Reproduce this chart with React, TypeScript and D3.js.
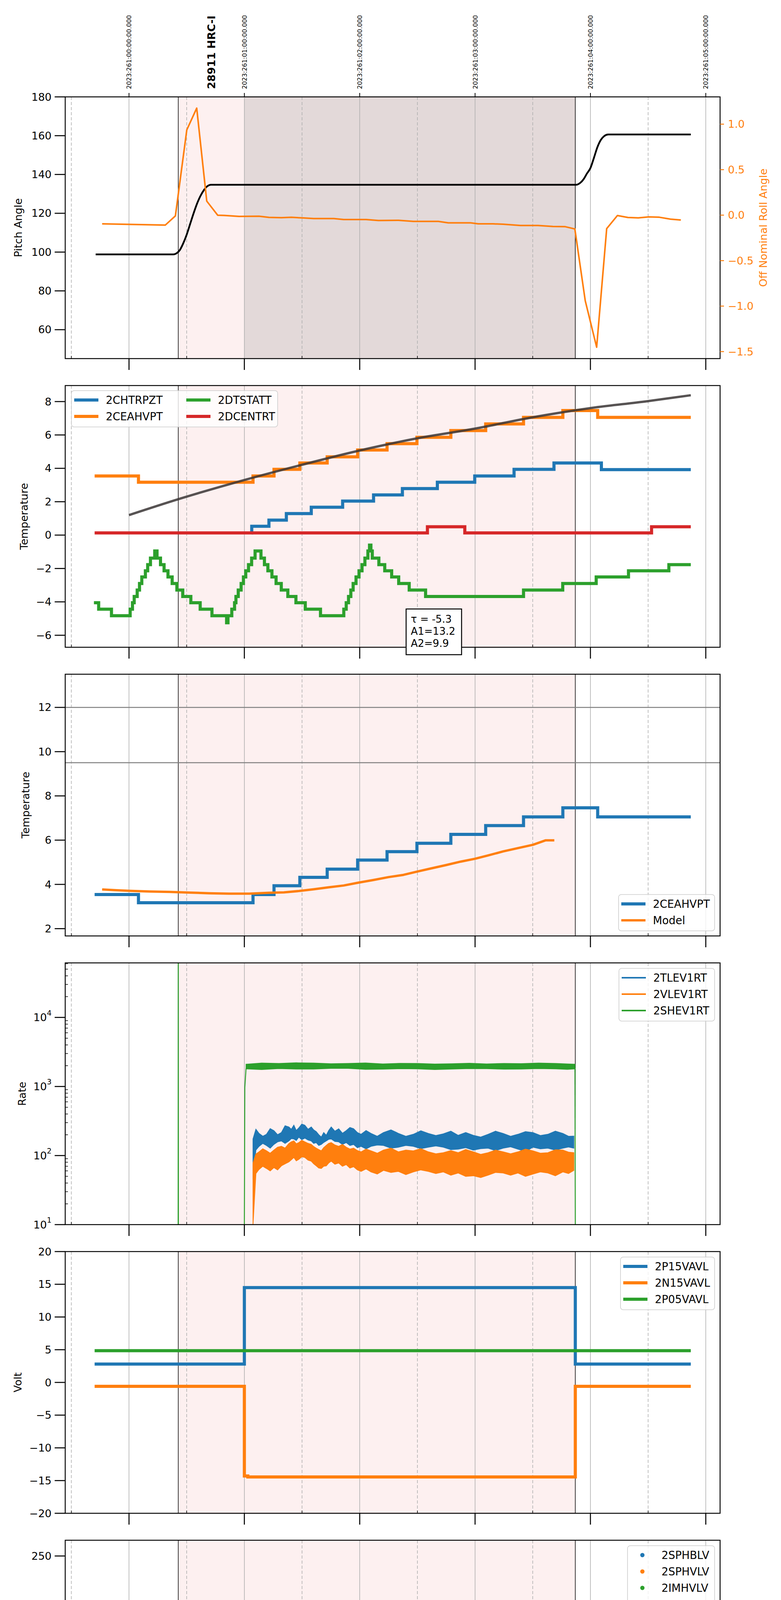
import React, { useLayoutEffect } from "react";
import * as d3 from "d3";

type Pt = [number, number];

// ---------------- time axis ----------------
const timeDomain: Pt = [19.447, 25.124];
const hourTicks = [20, 21, 22, 23, 24, 25];
const hourTickLabels = ["20h", "21h", "22h", "23h", "00h", "01h"];
const halfHourTicks = [19.5, 20.5, 21.5, 22.5, 23.5, 24.5];
const halfHourLabels = ["30", "30", "30", "30", "30", "30"];
const topTickLabels = [
  "2023:261:00:00:00.000",
  "2023:261:01:00:00.000",
  "2023:261:02:00:00.000",
  "2023:261:03:00:00.000",
  "2023:261:04:00:00.000",
  "2023:261:05:00:00.000",
];
const xAxisLabel = "2023-09-18 (261)";
const obsLabel = "28911 HRC-I";
const obsLabelTime = 20.713;
const obsWindow: Pt = [20.427, 23.869];
const dwellWindow: Pt = [21.0, 23.869];

// ---------------- panel 1: pitch / roll ----------------
const pitchAngle: Pt[] = [
  [19.711, 98.8], [20.384, 98.8], [20.41, 99.3], [20.44, 101], [20.47, 104.5], [20.5, 109],
  [20.53, 114.5], [20.56, 120], [20.59, 125], [20.62, 129], [20.65, 132], [20.68, 134],
  [20.71, 134.7], [23.877, 134.7], [23.91, 135.6], [23.94, 137.5], [23.97, 140.5], [24.0, 143.3],
  [24.03, 148.5], [24.06, 154], [24.09, 157.8], [24.12, 159.8], [24.155, 160.6], [24.87, 160.6],
];
const rollAngle: Pt[] = [
  [19.767, -0.096], [20.315, -0.109], [20.402, -0.009], [20.501, 0.937], [20.587, 1.176],
  [20.674, 0.154], [20.769, -0.001], [20.825, -0.003], [20.954, -0.014], [21.127, -0.012],
  [21.213, -0.025], [21.321, -0.028], [21.408, -0.024], [21.516, -0.031], [21.602, -0.038],
  [21.775, -0.038], [21.861, -0.048], [22.055, -0.048], [22.163, -0.059], [22.336, -0.057],
  [22.465, -0.069], [22.681, -0.069], [22.768, -0.085], [22.962, -0.085], [23.027, -0.096],
  [23.156, -0.096], [23.243, -0.1], [23.394, -0.114], [23.545, -0.114], [23.674, -0.125],
  [23.782, -0.127], [23.865, -0.152], [23.955, -0.94], [24.054, -1.452], [24.141, -0.148],
  [24.234, -0.004], [24.325, -0.026], [24.415, -0.03], [24.506, -0.019], [24.597, -0.023],
  [24.694, -0.044], [24.784, -0.054],
];

// ---------------- panel 2: temperatures ----------------
const panel2Names = ["2CHTRPZT", "2CEAHVPT", "2DTSTATT", "2DCENTRT"];
const chtrpzt: Pt[] = [
  [21.062, 0.13], [21.064, 0.53], [21.213, 0.9], [21.364, 1.29], [21.58, 1.67], [21.852, 2.04],
  [22.12, 2.41], [22.37, 2.79], [22.673, 3.17], [22.997, 3.54], [23.338, 3.94], [23.684, 4.32],
  [24.095, 3.92], [24.87, 3.92],
];
const ceahvpt: Pt[] = [
  [19.702, 3.54], [20.082, 3.17], [21.075, 3.54], [21.257, 3.94], [21.481, 4.32], [21.718, 4.69],
  [21.982, 5.1], [22.237, 5.48], [22.496, 5.86], [22.79, 6.26], [23.092, 6.66], [23.42, 7.05],
  [23.761, 7.46], [24.063, 7.05], [24.87, 7.05],
];
const dtstatt: Pt[] = [
  [19.696, -4.05], [19.737, -4.44], [19.848, -4.83], [20.01, -4.44], [20.03, -4.05], [20.045, -3.68],
  [20.071, -3.29], [20.091, -2.9], [20.111, -2.51], [20.142, -2.14], [20.162, -1.77], [20.186, -1.38],
  [20.223, -0.95], [20.243, -1.38], [20.273, -1.77], [20.304, -2.14], [20.338, -2.51], [20.374, -2.9],
  [20.415, -3.29], [20.466, -3.68], [20.536, -4.05], [20.617, -4.44], [20.719, -4.83], [20.846, -5.25],
  [20.858, -4.83], [20.891, -4.44], [20.915, -4.05], [20.927, -3.68], [20.947, -3.29], [20.972, -2.9],
  [20.992, -2.51], [21.012, -2.14], [21.036, -1.77], [21.063, -1.38], [21.093, -0.95], [21.144, -1.38],
  [21.174, -1.77], [21.204, -2.14], [21.239, -2.51], [21.275, -2.9], [21.32, -3.29], [21.377, -3.68],
  [21.447, -4.05], [21.528, -4.44], [21.66, -4.83], [21.862, -4.44], [21.883, -4.05], [21.903, -3.68],
  [21.923, -3.29], [21.943, -2.9], [21.968, -2.51], [21.994, -2.14], [22.02, -1.77], [22.045, -1.38],
  [22.071, -0.95], [22.085, -0.6], [22.097, -0.95], [22.109, -1.38], [22.166, -1.77], [22.217, -2.14],
  [22.277, -2.51], [22.338, -2.9], [22.429, -3.29], [22.571, -3.68], [23.42, -3.29], [23.76, -2.9],
  [24.05, -2.51], [24.33, -2.14], [24.68, -1.77], [24.87, -1.77],
];
const dcentrt: Pt[] = [[19.702, 0.13], [22.587, 0.5], [22.911, 0.13], [24.53, 0.5], [24.87, 0.5]];
const dpaFit: Pt[] = [
  [20.0, 1.2], [20.436, 2.17], [21.0, 3.3], [21.47, 4.16], [22.0, 5.07], [22.5, 5.8],
  [23.0, 6.38], [23.5, 7.06], [24.0, 7.61], [24.49, 8.02], [24.87, 8.38],
];
const fitText = ["τ = -5.3", "A1=13.2", "A2=9.9"];

// ---------------- panel 3: CEA HV temperature vs model ----------------
const panel3Names = ["2CEAHVPT", "Model"];
const ceahvptModel: Pt[] = [
  [19.767, 3.77], [19.875, 3.74], [20.004, 3.71], [20.177, 3.68], [20.35, 3.66], [20.522, 3.63],
  [20.695, 3.6], [20.868, 3.58], [21.041, 3.58], [21.213, 3.62], [21.343, 3.64], [21.472, 3.7],
  [21.602, 3.78], [21.731, 3.87], [21.861, 3.95], [21.99, 4.08], [22.12, 4.2], [22.25, 4.33],
  [22.379, 4.43], [22.5, 4.58], [22.617, 4.72], [22.746, 4.87], [22.876, 5.03], [23.0, 5.16],
  [23.113, 5.31], [23.243, 5.49], [23.372, 5.64], [23.502, 5.79], [23.61, 5.99], [23.687, 5.99],
];
const ceahvptLimits = [12, 9.5];

// ---------------- panel 4: rates (upper / lower envelopes of the noisy traces) ----------------
const panel4Names = ["2TLEV1RT", "2VLEV1RT", "2SHEV1RT"];
const rateTimes = [
  21.075, 21.1, 21.127, 21.16, 21.192, 21.224, 21.256, 21.288, 21.321, 21.353, 21.386, 21.407, 21.429,
  21.45, 21.472, 21.498, 21.524, 21.552, 21.58, 21.601, 21.623, 21.645, 21.667, 21.688, 21.71, 21.731,
  21.753, 21.785, 21.818, 21.85, 21.883, 21.915, 21.947, 21.98, 22.012, 22.055, 22.098, 22.152, 22.206,
  22.271, 22.336, 22.4, 22.465, 22.53, 22.595, 22.66, 22.725, 22.79, 22.854, 22.919, 22.984, 23.049,
  23.113, 23.178, 23.243, 23.308, 23.372, 23.437, 23.502, 23.566, 23.631, 23.696, 23.761, 23.81, 23.856,
];
const tlevHi = [
  174, 240, 209, 190, 203, 245, 229, 200, 215, 270, 259, 240, 275, 230, 251, 285, 275, 240, 259, 235, 222,
  200, 185, 215, 196, 230, 259, 225, 244, 210, 229, 255, 244, 215, 203, 230, 209, 190, 215, 235, 209, 190,
  203, 228, 209, 195, 206, 225, 196, 215, 196, 185, 203, 225, 209, 190, 203, 222, 215, 195, 203, 225, 209,
  190, 191,
];
const tlevLo = [
  45, 120, 136, 150, 140, 128, 145, 158, 163, 150, 163, 176, 174, 165, 185, 170, 179, 168, 163, 150, 154,
  140, 145, 155, 163, 172, 174, 160, 158, 145, 154, 140, 145, 130, 136, 125, 136, 142, 140, 128, 132, 140,
  136, 126, 132, 138, 132, 122, 124, 130, 120, 126, 128, 118, 128, 134, 124, 115, 132, 125, 128, 120, 128,
  133, 128,
];
const vlevHi = [
  78, 105, 113, 125, 117, 108, 120, 132, 136, 128, 149, 158, 163, 148, 154, 166, 158, 150, 145, 135, 128,
  122, 117, 130, 140, 150, 154, 142, 136, 145, 132, 124, 128, 118, 113, 124, 117, 108, 120, 128, 113, 120,
  117, 126, 113, 106, 110, 118, 110, 122, 113, 104, 110, 120, 113, 106, 113, 124, 117, 108, 110, 121, 120,
  112, 110,
];
const vlevLo = [
  10, 55, 63, 70, 65, 60, 67, 62, 71, 76, 81, 87, 94, 84, 88, 96, 94, 86, 83, 76, 71, 66, 65, 70, 71, 78,
  83, 75, 78, 70, 74, 66, 69, 62, 59, 64, 58, 54, 61, 57, 59, 53, 58, 62, 59, 55, 58, 52, 56, 50, 51, 48,
  52, 57, 56, 52, 56, 50, 54, 58, 56, 51, 58, 55, 61,
];
const shevTimes = [
  21.015, 21.15, 21.3, 21.45, 21.6, 21.75, 21.9, 22.05, 22.2, 22.35, 22.5, 22.65, 22.8, 22.95, 23.1,
  23.25, 23.4, 23.55, 23.7, 23.8, 23.866,
];
const shevHi = [2100, 2180, 2150, 2200, 2180, 2130, 2150, 2190, 2120, 2160, 2150, 2110, 2130, 2170, 2120, 2150, 2140, 2180, 2150, 2120, 2100];
const shevLo = [1800, 1760, 1820, 1790, 1790, 1830, 1830, 1770, 1780, 1810, 1800, 1760, 1790, 1820, 1810, 1780, 1790, 1820, 1800, 1770, 1800];
const shevRise: Pt[] = [[21.0, 9], [21.004, 970], [21.015, 1850]];
const shevFall: Pt[] = [[23.866, 1850], [23.869, 9]];
const shevSpike: Pt[] = [[20.426, 9], [20.427, 90000], [20.428, 9]];

// ---------------- panel 5: voltages ----------------
const panel5Names = ["2P15VAVL", "2N15VAVL", "2P05VAVL"];
const p15vavl: Pt[] = [[19.702, 2.8], [21.0, 14.5], [23.869, 2.8], [24.87, 2.8]];
const n15vavl: Pt[] = [[19.702, -0.6], [21.0, -14.3], [21.03, -14.45], [23.869, -0.6], [24.87, -0.6]];
const p05vavl: Pt[] = [[19.702, 4.85], [24.87, 4.85]];

// ---------------- panel 6: HV monitors ----------------
const panel6Names = ["2SPHBLV", "2SPHVLV", "2IMHVLV", "2IMHBLV"];
const imhvlvRamp: Pt[] = [[21.028, 99], [21.036, 94], [21.049, 90], [21.062, 86], [21.075, 82.5]];
const imhvlvSteady: Pt[] = [[21.088, 79.2], [23.869, 79.2]];
const imhblvRamp: Pt[] = [[21.028, 127], [21.032, 119], [21.036, 105.5], [21.045, 101], [21.058, 97], [21.071, 93], [21.084, 89]];
const imhblvSteady: Pt[] = [[21.084, 85.8], [23.869, 85.8]];

// ---------------- panel 7: detector temperatures ----------------
const panel7Names = ["2SPINATM", "2SPHVATM", "2IMINATM", "2IMHVATM"];
const spinatm: Pt[] = [
  [21.0, 5.9], [21.006, 6.01], [21.019, 6.49], [21.041, 6.98], [21.071, 7.48], [21.097, 7.98],
  [21.136, 7.48], [21.161, 6.98], [21.192, 6.49], [21.218, 6.01], [21.248, 5.52], [21.287, 5.04],
  [21.343, 4.58], [21.408, 4.17], [21.481, 3.71], [21.58, 3.26], [21.731, 2.79], [21.852, 3.26],
  [21.87, 3.71], [21.887, 4.17], [21.904, 4.58], [21.926, 5.04], [21.943, 5.52], [21.96, 6.01],
  [21.982, 6.49], [22.008, 6.98], [22.038, 7.48], [22.064, 7.98], [22.111, 7.48], [22.142, 6.98],
  [22.172, 6.49], [22.206, 6.01], [22.25, 5.52], [22.306, 5.04], [22.362, 4.58], [22.431, 4.17],
  [22.543, 3.71], [22.716, 3.26], [23.178, 2.79], [23.774, 3.26], [23.847, 3.26],
];
const sphvatm: Pt[] = [
  [20.997, 12.74], [21.006, 13.06], [21.667, 13.33], [21.896, 13.67], [21.904, 13.33], [21.969, 13.6],
  [22.241, 13.88], [22.5, 14.15], [22.746, 14.44], [22.997, 14.71], [23.264, 14.98], [23.523, 15.25],
  [23.804, 15.54], [23.847, 15.54],
];
const iminatm: Pt[] = [[21.0, 0.2], [21.019, 0.66], [22.5, 1.08], [23.597, 1.51], [23.847, 1.51]];
const imhvatm: Pt[] = [
  [20.997, -2], [20.998, 12.49], [21.213, 12.79], [21.321, 13.06], [21.421, 13.33], [21.516, 13.6],
  [21.645, 13.88], [21.766, 14.15], [21.896, 14.44], [22.055, 14.71], [22.237, 14.98], [22.414, 15.25],
  [22.604, 15.54], [22.811, 15.83], [23.018, 16.1], [23.256, 16.38], [23.51, 16.66], [23.774, 16.95],
  [23.871, 30], [23.877, -5],
];

// ---------------- panel 8: FEA temperatures ----------------
const panel8Names = ["2FHTRMZT", "2FRADPYT", "2FEPRATM", "2FE00ATM"];
const fhtrmzt: Pt[] = [
  [19.702, -11.35], [21.192, -10.9], [21.321, -10.46], [21.429, -10.07], [21.537, -9.64], [21.636, -8.34],
  [21.645, -9.22], [21.753, -8.79], [21.87, -8.4], [21.99, -7.55], [21.999, -7.99], [22.098, -7.57],
  [22.215, -7.17], [22.327, -6.77], [22.444, -6.37], [22.565, -5.97], [22.681, -5.57], [22.811, -5.17],
  [22.932, -4.81], [23.061, -4.41], [23.199, -4.03], [23.329, -3.64], [23.372, -3.21], [23.381, -3.64],
  [23.467, -3.25], [23.61, -2.87], [23.752, -2.5], [23.89, -2.12], [24.56, -2.5], [24.87, -2.5],
];
const fradpyt: Pt[] = [
  [21.394, -13], [21.395, -11.76], [21.494, -11.34], [21.602, -10.91], [21.714, -10.46], [21.831, -10.07],
  [21.947, -9.64], [22.064, -9.25], [22.185, -8.81], [22.306, -8.4], [22.422, -7.99], [22.552, -7.6],
  [22.681, -7.17], [22.811, -6.77], [22.94, -6.39], [23.092, -5.97], [23.221, -5.59], [23.372, -5.19],
  [23.523, -4.81], [23.666, -4.41], [23.817, -4.05], [24.322, -4.43], [24.87, -4.43],
];
const fepratm: Pt[] = [
  [21.028, -9.88], [21.041, -9.41], [21.092, -8.98], [21.136, -8.58], [21.183, -8.18], [21.248, -7.78],
  [21.33, -7.38], [21.408, -6.98], [21.503, -6.6], [21.602, -6.2], [21.71, -5.81], [21.818, -5.4],
  [21.926, -5.0], [22.042, -4.6], [22.155, -4.22], [22.275, -3.82], [22.401, -3.42], [22.522, -3.03],
  [22.651, -2.62], [22.789, -2.21], [22.932, -1.82], [23.07, -1.41], [23.212, -1.0], [23.364, -0.59],
  [23.523, -0.2], [23.674, 0.2], [23.85, 0.6],
];
const fe00atm: Pt[] = [
  [20.997, -13], [20.998, -9.45], [21.136, -9.03], [21.213, -8.2], [21.222, -9.03], [21.248, -9.15],
  [21.256, -8.65], [21.321, -8.25], [21.399, -7.85], [21.494, -7.45], [21.567, -7.1], [21.645, -6.7],
  [21.714, -7.9], [21.723, -6.7], [21.732, -6.31], [21.805, -5.9], [21.814, -6.31], [21.839, -5.95],
  [21.904, -5.62], [22.012, -5.23], [22.098, -4.1], [22.107, -4.88], [22.198, -4.53], [22.293, -4.15],
  [22.379, -3.82], [22.487, -2.75], [22.496, -3.82], [22.53, -4.2], [22.539, -3.47], [22.586, -3.12],
  [22.604, -2.75], [22.613, -3.12], [22.681, -2.79], [22.768, -2.43], [22.811, -3.2], [22.82, -2.43],
  [22.854, -2.1], [22.94, -2.5], [22.949, -2.1], [22.975, -1.77], [23.092, -1.47], [23.199, -1.07],
  [23.277, -1.5], [23.286, -1.07], [23.307, -0.75], [23.415, -0.43], [23.536, -0.12], [23.653, 0.3],
  [23.871, 5], [23.877, -20],
];

// ---------------- layout ----------------
const X0 = 167;
const X1 = 1844;
const PH = 670;
const TOPS = [248, 987, 1726, 2465, 3204, 3943, 4682, 5421];
const FONT = "DejaVu Sans";
const C = { blue: "#1f77b4", orange: "#ff7f0e", green: "#2ca02c", red: "#d62728" };

const x = d3.scaleLinear().domain(timeDomain).range([X0, X1]);

function lineD(data: Pt[], y: (v: number) => number, curve: any = d3.curveLinear) {
  return d3.line<Pt>().x((d) => x(d[0])).y((d) => y(d[1])).curve(curve)(data) || "";
}
function areaD(t: number[], hi: number[], lo: number[], y: (v: number) => number) {
  const pts = t.map((tt, i) => ({ t: tt, h: hi[i], l: lo[i] }));
  return d3.area<any>().x((d) => x(d.t)).y0((d) => y(d.l)).y1((d) => y(d.h))(pts) || "";
}
const minus = (v: number, s: string) => (v < 0 ? "\u2212" + s.replace("-", "") : s);

function Panel(props: any) {
  const { top, y, ticks, fmt, label, labelX, dark, id, children, logMinor } = props;
  const bottom = top + PH;
  return (
    <g>
      <defs>
        <clipPath id={id}>
          <rect x={X0} y={top} width={X1 - X0} height={PH} />
        </clipPath>
      </defs>
      <rect x={X0} y={top} width={X1 - X0} height={PH} fill="#ffffff" />
      <rect x={x(obsWindow[0])} y={top} width={x(obsWindow[1]) - x(obsWindow[0])} height={PH} fill="#fdf0f0" />
      {dark && (
        <rect x={x(dwellWindow[0])} y={top} width={x(dwellWindow[1]) - x(dwellWindow[0])} height={PH} fill="#e3d9d9" />
      )}
      {hourTicks.map((h) => (
        <line key={"g" + h} x1={x(h)} x2={x(h)} y1={top} y2={bottom} stroke="#b0b0b0" strokeWidth={1.6} />
      ))}
      {halfHourTicks.map((h) => (
        <line key={"d" + h} x1={x(h)} x2={x(h)} y1={top} y2={bottom} stroke="#b0b0b0" strokeWidth={1.6} strokeDasharray="8 5" />
      ))}
      {obsWindow.map((t) => (
        <line key={"o" + t} x1={x(t)} x2={x(t)} y1={top} y2={bottom} stroke="#000" strokeWidth={1.5} />
      ))}
      <g clipPath={`url(#${id})`}>{children}</g>
      <rect x={X0} y={top} width={X1 - X0} height={PH} fill="none" stroke="#000" strokeWidth={2.4} />
      {ticks.map((v: number, i: number) => (
        <g key={"yt" + i}>
          <line x1={X0 - 27} x2={X0} y1={y(v)} y2={y(v)} stroke="#000" strokeWidth={2.6} />
          <text x={X0 - 35} y={y(v)} textAnchor="end" dominantBaseline="central" fontSize={27}>
            {fmt(v)}
          </text>
        </g>
      ))}
      {logMinor &&
        logMinor.map((v: number, i: number) => (
          <line key={"lm" + i} x1={X0} x2={X0 + 7} y1={y(v)} y2={y(v)} stroke="#000" strokeWidth={1.5} />
        ))}
      {hourTicks.map((h) => (
        <line key={"xt" + h} x1={x(h)} x2={x(h)} y1={bottom} y2={bottom + 29} stroke="#000" strokeWidth={2.6} />
      ))}
      {halfHourTicks.map((h) => (
        <line key={"xm" + h} x1={x(h)} x2={x(h)} y1={bottom} y2={bottom - 7} stroke="#000" strokeWidth={1.5} />
      ))}
      <text transform={`translate(${labelX},${top + PH / 2}) rotate(-90)`} textAnchor="middle" fontSize={27}>
        {label}
      </text>
    </g>
  );
}

function Legend(props: any) {
  const { x0, y0, w, items, cols = 1, colGap = 287, dots = false } = props;
  const perCol = Math.ceil(items.length / cols);
  const h = 51 + (perCol - 1) * 42;
  return (
    <g>
      <rect x={x0} y={y0} width={w} height={h} rx={7} fill="#ffffff" fillOpacity={0.8} stroke="#cccccc" strokeWidth={1.6} />
      {items.map((it: any, i: number) => {
        const c = Math.floor(i / perCol);
        const r = i % perCol;
        const cy = y0 + 24 + r * 42;
        const bx = x0 + c * colGap;
        return (
          <g key={i}>
            {dots ? (
              <circle cx={bx + 38} cy={cy} r={5.5} fill={it.color} />
            ) : (
              <line x1={bx + 7} x2={bx + 69} y1={cy} y2={cy} stroke={it.color} strokeWidth={it.lw} />
            )}
            <text x={bx + (dots ? 87 : 88)} y={cy} dominantBaseline="central" fontSize={27.5}>
              {it.label}
            </text>
          </g>
        );
      })}
    </g>
  );
}

export default function App() {
  useLayoutEffect(() => {
    document.body.style.margin = "0";
  }, []);
  const b = (i: number) => TOPS[i] + PH;

  const yPitch = d3.scaleLinear().domain([45.1, 180]).range([b(0), TOPS[0]]);
  const yRoll = d3.scaleLinear().domain([-1.577, 1.3]).range([b(0), TOPS[0]]);
  const yT2 = d3.scaleLinear().domain([-6.72, 8.96]).range([b(1), TOPS[1]]);
  const yT3 = d3.scaleLinear().domain([1.67, 13.5]).range([b(2), TOPS[2]]);
  const yRate = d3.scaleLog().domain([10, 61600]).range([b(3), TOPS[3]]);
  const yV = d3.scaleLinear().domain([-20, 20]).range([b(4), TOPS[4]]);
  const yHV = d3.scaleLinear().domain([0, 266]).range([b(5), TOPS[5]]);
  const yDT = d3.scaleLinear().domain([-0.83, 17.58]).range([b(6), TOPS[6]]);
  const yFEA = d3.scaleLinear().domain([-11.98, 0.09]).range([b(7), TOPS[7]]);

  const step = d3.curveStepAfter;
  const intFmt = (v: number) => minus(v, String(v));
  const logMinor: number[] = [];
  [10, 100, 1000, 10000].forEach((p) => {
    for (let m = 2; m <= 9; m++) if (p * m < 61600) logMinor.push(p * m);
  });
  const lw = 8;

  const stepPath = (data: Pt[], y: any, color: string, w = lw) => (
    <path d={lineD(data, y, step)} fill="none" stroke={color} strokeWidth={w} strokeLinejoin="miter" />
  );

  return (
    <svg width={2000} height={6200} fontFamily={FONT} style={{ display: "block", background: "#fff" }}>
      <rect x={0} y={0} width={2000} height={6200} fill="#fff" />

      {/* ---------- Panel 1 ---------- */}
      <Panel top={TOPS[0]} y={yPitch} ticks={[60, 80, 100, 120, 140, 160, 180]} fmt={intFmt} label="Pitch Angle" labelX={56} dark id="c1">
        <path d={lineD(pitchAngle, yPitch, d3.curveMonotoneX)} fill="none" stroke="#000" strokeWidth={4.5} />
        <path d={lineD(rollAngle, yRoll)} fill="none" stroke={C.orange} strokeWidth={4} strokeLinejoin="round" />
      </Panel>
      {[-1.5, -1.0, -0.5, 0.0, 0.5, 1.0].map((v) => (
        <g key={"r" + v}>
          <line x1={X1} x2={X1 + 10} y1={yRoll(v)} y2={yRoll(v)} stroke={C.orange} strokeWidth={2.4} />
          <text x={X1 + 20} y={yRoll(v)} dominantBaseline="central" fontSize={27} fill={C.orange}>
            {minus(v, v.toFixed(1))}
          </text>
        </g>
      ))}
      <text transform={`translate(1964,${TOPS[0] + PH / 2}) rotate(-90)`} textAnchor="middle" fontSize={27} fill={C.orange}>
        Off Nominal Roll Angle
      </text>
      {hourTicks.map((h, i) => (
        <g key={"tt" + h}>
          <line x1={x(h)} x2={x(h)} y1={TOPS[0]} y2={TOPS[0] - 10} stroke="#000" strokeWidth={2} />
          <text transform={`translate(${x(h) + 6},228) rotate(-90)`} fontSize={16}>
            {topTickLabels[i]}
          </text>
        </g>
      ))}
      <text transform={`translate(${x(obsLabelTime) + 10},228) rotate(-90)`} fontSize={27} fontWeight="bold">
        {obsLabel}
      </text>

      {/* ---------- Panel 2 ---------- */}
      <Panel top={TOPS[1]} y={yT2} ticks={[-6, -4, -2, 0, 2, 4, 6, 8]} fmt={intFmt} label="Temperature" labelX={71} id="c2">
        {stepPath(chtrpzt, yT2, C.blue)}
        {stepPath(ceahvpt, yT2, C.orange)}
        {stepPath(dtstatt, yT2, C.green)}
        {stepPath(dcentrt, yT2, C.red)}
        <path d={lineD(dpaFit, yT2, d3.curveMonotoneX)} fill="none" stroke="#3a3535" strokeOpacity={0.85} strokeWidth={6} />
      </Panel>
      <Legend
        x0={183}
        y0={1000}
        w={528}
        cols={2}
        items={[
          { label: panel2Names[0], color: C.blue, lw: 8 },
          { label: panel2Names[1], color: C.orange, lw: 8 },
          { label: panel2Names[2], color: C.green, lw: 8 },
          { label: panel2Names[3], color: C.red, lw: 8 },
        ]}
      />
      <rect x={1040} y={1559} width={142} height={117} fill="#fff" stroke="#000" strokeWidth={2.5} />
      {fitText.map((t, i) => (
        <text key={t} x={1052} y={1594 + i * 31} fontSize={26}>
          {t}
        </text>
      ))}

      {/* ---------- Panel 3 ---------- */}
      <Panel top={TOPS[2]} y={yT3} ticks={[2, 4, 6, 8, 10, 12]} fmt={intFmt} label="Temperature" labelX={75} id="c3">
        {ceahvptLimits.map((v) => (
          <line key={"lim" + v} x1={X0} x2={X1} y1={yT3(v)} y2={yT3(v)} stroke="#7f7f7f" strokeWidth={2.6} />
        ))}
        {stepPath(ceahvpt, yT3, C.blue)}
        <path d={lineD(ceahvptModel, yT3)} fill="none" stroke={C.orange} strokeWidth={6} strokeLinejoin="round" />
      </Panel>
      <Legend
        x0={1830 - 246}
        y0={2290}
        w={246}
        items={[
          { label: panel3Names[0], color: C.blue, lw: 8 },
          { label: panel3Names[1], color: C.orange, lw: 6 },
        ]}
      />

      {/* ---------- Panel 4 ---------- */}
      <Panel
        top={TOPS[3]}
        y={yRate}
        ticks={[10, 100, 1000, 10000]}
        fmt={(v: number) => (
          <>
            10
            <tspan dy={-12} fontSize={19}>
              {Math.round(Math.log10(v))}
            </tspan>
          </>
        )}
        label="Rate"
        labelX={66}
        id="c4"
        logMinor={logMinor}
      >
        <path d={lineD(shevSpike, yRate)} fill="none" stroke={C.green} strokeWidth={2.5} />
        <path d={areaD(rateTimes, tlevHi, tlevLo, yRate)} fill={C.blue} stroke={C.blue} strokeWidth={2} />
        <path d={areaD(rateTimes, vlevHi, vlevLo, yRate)} fill={C.orange} stroke={C.orange} strokeWidth={2} />
        <path d={lineD(shevRise, yRate)} fill="none" stroke={C.green} strokeWidth={2.5} />
        <path d={areaD(shevTimes, shevHi, shevLo, yRate)} fill={C.green} stroke={C.green} strokeWidth={2} />
        <path d={lineD(shevFall, yRate)} fill="none" stroke={C.green} strokeWidth={2.5} />
      </Panel>
      <Legend
        x0={1830 - 245}
        y0={2479}
        w={245}
        items={[
          { label: panel4Names[0], color: C.blue, lw: 4 },
          { label: panel4Names[1], color: C.orange, lw: 4 },
          { label: panel4Names[2], color: C.green, lw: 4 },
        ]}
      />

      {/* ---------- Panel 5 ---------- */}
      <Panel top={TOPS[4]} y={yV} ticks={[-20, -15, -10, -5, 0, 5, 10, 15, 20]} fmt={intFmt} label="Volt" labelX={55} id="c5">
        {stepPath(p15vavl, yV, C.blue)}
        {stepPath(n15vavl, yV, C.orange)}
        {stepPath(p05vavl, yV, C.green)}
      </Panel>
      <Legend
        x0={1830 - 241}
        y0={3218}
        w={241}
        items={[
          { label: panel5Names[0], color: C.blue, lw: 8 },
          { label: panel5Names[1], color: C.orange, lw: 8 },
          { label: panel5Names[2], color: C.green, lw: 8 },
        ]}
      />

      {/* ---------- Panel 6 ---------- */}
      <Panel top={TOPS[5]} y={yHV} ticks={[0, 50, 100, 150, 200, 250]} fmt={intFmt} label="HV Monitor" labelX={60} id="c6">
        <path d={lineD(imhvlvSteady, yHV)} fill="none" stroke={C.green} strokeWidth={12} strokeLinecap="round" />
        {imhvlvRamp.map((d, i) => (
          <circle key={"g" + i} cx={x(d[0])} cy={yHV(d[1])} r={6} fill={C.green} />
        ))}
        <path d={lineD(imhblvSteady, yHV)} fill="none" stroke={C.red} strokeWidth={12} strokeLinecap="round" />
        {imhblvRamp.map((d, i) => (
          <circle key={"r" + i} cx={x(d[0])} cy={yHV(d[1])} r={6} fill={C.red} />
        ))}
      </Panel>
      <Legend
        x0={1830 - 223}
        y0={3957}
        w={223}
        dots
        items={[
          { label: panel6Names[0], color: C.blue },
          { label: panel6Names[1], color: C.orange },
          { label: panel6Names[2], color: C.green },
          { label: panel6Names[3], color: C.red },
        ]}
      />

      {/* ---------- Panel 7 ---------- */}
      <Panel
        top={TOPS[6]}
        y={yDT}
        ticks={[0, 2.5, 5, 7.5, 10, 12.5, 15, 17.5]}
        fmt={(v: number) => v.toFixed(1)}
        label="Detector Temp"
        labelX={50}
        id="c7"
      >
        {stepPath(spinatm, yDT, C.blue)}
        {stepPath(sphvatm, yDT, C.orange)}
        {stepPath(iminatm, yDT, C.green)}
        {stepPath(imhvatm, yDT, C.red)}
      </Panel>
      <Legend
        x0={1830 - 246}
        y0={4695}
        w={246}
        items={[
          { label: panel7Names[0], color: C.blue, lw: 8 },
          { label: panel7Names[1], color: C.orange, lw: 8 },
          { label: panel7Names[2], color: C.green, lw: 8 },
          { label: panel7Names[3], color: C.red, lw: 8 },
        ]}
      />

      {/* ---------- Panel 8 ---------- */}
      <Panel top={TOPS[7]} y={yFEA} ticks={[-10, -8, -6, -4, -2, 0]} fmt={intFmt} label="FEA Temp" labelX={51} id="c8">
        {stepPath(fhtrmzt, yFEA, C.blue)}
        {stepPath(fradpyt, yFEA, C.orange)}
        {stepPath(fepratm, yFEA, C.green)}
        {stepPath(fe00atm, yFEA, C.red)}
      </Panel>
      <Legend
        x0={182}
        y0={5433}
        w={252}
        items={[
          { label: panel8Names[0], color: C.blue, lw: 8 },
          { label: panel8Names[1], color: C.orange, lw: 8 },
          { label: panel8Names[2], color: C.green, lw: 8 },
          { label: panel8Names[3], color: C.red, lw: 8 },
        ]}
      />
      {halfHourTicks.map((h, i) => (
        <text key={"ml" + h} x={x(h)} y={6112} textAnchor="middle" fontSize={18}>
          {halfHourLabels[i]}
        </text>
      ))}
      {hourTicks.map((h, i) => (
        <text key={"hl" + h} x={x(h)} y={6149} textAnchor="middle" fontSize={27}>
          {hourTickLabels[i]}
        </text>
      ))}
      <text x={(X0 + X1) / 2} y={6189} textAnchor="middle" fontSize={27}>
        {xAxisLabel}
      </text>
    </svg>
  );
}
